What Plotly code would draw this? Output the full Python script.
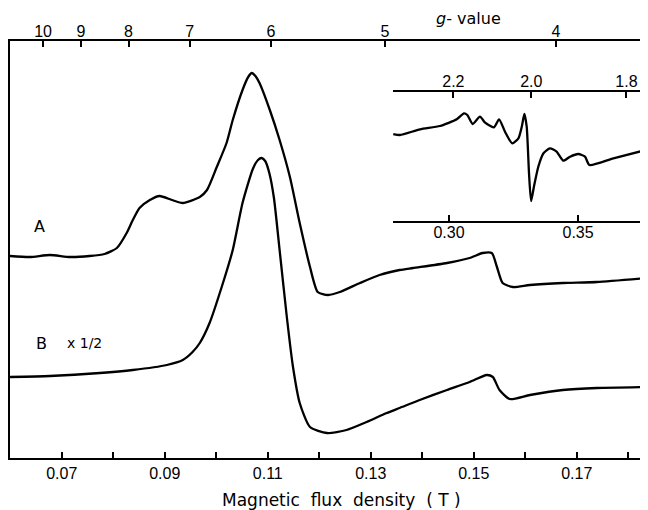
import plotly.graph_objects as go

# ---------------- data ----------------
# Main spectra: magnetic flux density (T) and signal (arbitrary units)
field_A = [0.0599, 0.0638, 0.0677, 0.0716, 0.0754, 0.0783, 0.0807, 0.0826, 0.0838, 0.0851,
           0.0871, 0.0890, 0.0914, 0.0935, 0.0968, 0.0982, 0.1001, 0.1020, 0.1032, 0.1051,
           0.1062, 0.1069, 0.1076, 0.1084, 0.1104, 0.1123, 0.1143, 0.1162, 0.1182, 0.1197,
           0.1217, 0.1240, 0.1279, 0.1317, 0.1356, 0.1382, 0.1448, 0.1492, 0.1517, 0.1535,
           0.1545, 0.1556, 0.1576, 0.1609, 0.1673, 0.1739, 0.1836]
signal_A = [202, 201, 203, 201, 202, 204, 210, 225, 238, 250,
            258, 262, 258, 255, 261, 268, 291, 315, 338, 368,
            381, 385, 382, 375, 348, 318, 281, 235, 191, 166,
            163, 166, 175, 183, 188, 190, 195, 200, 205, 205,
            191, 175, 171, 173, 175, 176, 180]

field_B = [0.0599, 0.0677, 0.0774, 0.0838, 0.0904, 0.0935, 0.0954, 0.0968, 0.0987, 0.1013,
           0.1032, 0.1051, 0.1071, 0.1081, 0.1088, 0.1095, 0.1103, 0.1112, 0.1123, 0.1137,
           0.1149, 0.1162, 0.1182, 0.1215, 0.1253, 0.1292, 0.1331, 0.1356, 0.1395, 0.1448,
           0.1492, 0.1525, 0.1537, 0.1550, 0.1570, 0.1609, 0.1673, 0.1739, 0.1836]
signal_B = [81, 82, 85, 88, 93, 98, 106, 115, 135, 175,
            208, 255, 289, 298, 300, 297, 285, 260, 208, 141,
            91, 55, 31, 25, 28, 36, 45, 50, 58, 68,
            76, 83, 81, 68, 59, 63, 68, 70, 71]

# Inset spectrum (g ~ 2 region)
field_inset = [0.2784, 0.2810, 0.2888, 0.2965, 0.3030, 0.3058, 0.3071, 0.3092, 0.3120, 0.3140,
               0.3174, 0.3194, 0.3217, 0.3245, 0.3269, 0.3282, 0.3292, 0.3301, 0.3310, 0.3318,
               0.3329, 0.3346, 0.3366, 0.3391, 0.3417, 0.3443, 0.3469, 0.3501, 0.3527, 0.3544,
               0.3637, 0.3772]
signal_inset = [87, 86, 91.7, 95, 101.7, 107.7, 106, 97, 104.3, 98.3,
                93.7, 101.7, 89.3, 77.7, 82.7, 94.3, 107, 94.3, 47.7, 20,
                34.3, 54.3, 67.7, 72.7, 69.3, 60.3, 64.3, 67, 64.3, 56,
                62.7, 71.7]

# Axis ticks
main_field_ticks = [0.07, 0.08, 0.09, 0.10, 0.11, 0.12, 0.13, 0.14, 0.15, 0.16, 0.17, 0.18]
main_field_labels = ["0.07", "", "0.09", "", "0.11", "", "0.13", "", "0.15", "", "0.17", ""]
main_g_ticks = [10, 9, 8, 7, 6, 5, 4]
inset_field_ticks = [0.30, 0.35]
inset_field_labels = ["0.30", "0.35"]
inset_g_ticks = [2.2, 2.0, 1.8]
inset_g_labels = ["2.2", "2.0", "1.8"]

# microwave frequency (GHz) -> B = h*nu/(g*muB)
freq_GHz = 9.29
h_over_muB = 0.0714477  # T per GHz
K = h_over_muB * freq_GHz
main_g_pos = [K / g for g in main_g_ticks]
inset_g_pos = [K / g for g in inset_g_ticks]

# ---------------- figure ----------------
MAIN_RANGE = [0.05995, 0.18383]
INSET_RANGE = [0.2783, 0.3771]
line_style = dict(color="black", width=2.3, shape="spline", smoothing=0.6)
tickfont = dict(family="Liberation Sans, Arial, sans-serif", size=16, color="black")

fig = go.Figure()
fig.add_trace(go.Scatter(x=field_A, y=signal_A, mode="lines", line=line_style,
                         xaxis="x", yaxis="y", hoverinfo="skip"))
fig.add_trace(go.Scatter(x=field_B, y=signal_B, mode="lines", line=line_style,
                         xaxis="x", yaxis="y", hoverinfo="skip"))
# invisible trace so the g-value axis is drawn
fig.add_trace(go.Scatter(x=main_g_pos, y=[0] * len(main_g_pos), mode="markers",
                         marker=dict(opacity=0), xaxis="x2", yaxis="y", hoverinfo="skip"))
fig.add_trace(go.Scatter(x=field_inset, y=signal_inset, mode="lines",
                         line=dict(color="black", width=2.3, shape="spline", smoothing=0.6),
                         xaxis="x3", yaxis="y3", hoverinfo="skip"))
fig.add_trace(go.Scatter(x=inset_g_pos, y=[0] * len(inset_g_pos), mode="markers",
                         marker=dict(opacity=0), xaxis="x4", yaxis="y3", hoverinfo="skip"))

inset_dom_x = [0.6003, 1.0]
inset_dom_y = [0.5683, 0.8777]

common_ax = dict(showgrid=False, zeroline=False,
                 showline=True, linecolor="black", linewidth=1.6,
                 ticks="inside", ticklen=6, tickwidth=1.5, tickcolor="black",
                 tickfont=tickfont)

# page body adds an 8px offset; the figure is sized so the plot area lands in place
fig.update_layout(
    width=640, height=502,
    margin=dict(l=2, r=0, t=33, b=52),
    paper_bgcolor="white", plot_bgcolor="white",
    showlegend=False,
    xaxis=dict(range=MAIN_RANGE, domain=[0, 1],
               tickvals=main_field_ticks, ticktext=main_field_labels, **common_ax),
    xaxis2=dict(range=MAIN_RANGE, overlaying="x", side="top", anchor="y",
                tickvals=main_g_pos, ticktext=[str(g) for g in main_g_ticks],
                ticklabelstandoff=-4, **common_ax),
    yaxis=dict(range=[0, 417], domain=[0, 1], showgrid=False, zeroline=False,
               showline=True, linecolor="black", linewidth=1.6,
               showticklabels=False, ticks=""),
    xaxis3=dict(range=INSET_RANGE, domain=inset_dom_x, anchor="y3",
                tickvals=inset_field_ticks, ticktext=inset_field_labels,
                ticklabelstandoff=-4, **common_ax),
    xaxis4=dict(range=INSET_RANGE, overlaying="x3", side="top", anchor="y3",
                tickvals=inset_g_pos, ticktext=inset_g_labels,
                ticklabelstandoff=-3, **common_ax),
    yaxis3=dict(range=[0, 129], domain=inset_dom_y, anchor="x3",
                showgrid=False, zeroline=False, showline=False,
                showticklabels=False, ticks=""),
)

lab_font = dict(family="DejaVu Sans, sans-serif", size=16, color="black")
fig.add_annotation(x=0.0657, y=232, xref="x", yref="y", text="A", showarrow=False,
                   font=lab_font, xanchor="center", yanchor="middle")
fig.add_annotation(x=0.0661, y=115, xref="x", yref="y", text="B", showarrow=False,
                   font=lab_font, xanchor="center", yanchor="middle")
fig.add_annotation(x=0.0745, y=115, xref="x", yref="y", text="x 1/2", showarrow=False,
                   font=dict(family="DejaVu Sans, sans-serif", size=14, color="black"),
                   xanchor="center", yanchor="middle")
fig.add_annotation(x=0.519, y=-0.1007, xref="paper", yref="paper",
                   text="Magnetic&nbsp;&nbsp;flux&nbsp;&nbsp;density&nbsp;&nbsp;( T )",
                   showarrow=False, xanchor="center", yanchor="middle",
                   font=dict(family="DejaVu Sans, sans-serif", size=17, color="black"))
fig.add_annotation(x=0.718, y=1.055, xref="paper", yref="paper",
                   text="<i>g</i>- value", showarrow=False, xanchor="center", yanchor="middle",
                   font=dict(family="DejaVu Sans, sans-serif", size=16, color="black"))

fig.write_html("out.html", config={"displayModeBar": False})
